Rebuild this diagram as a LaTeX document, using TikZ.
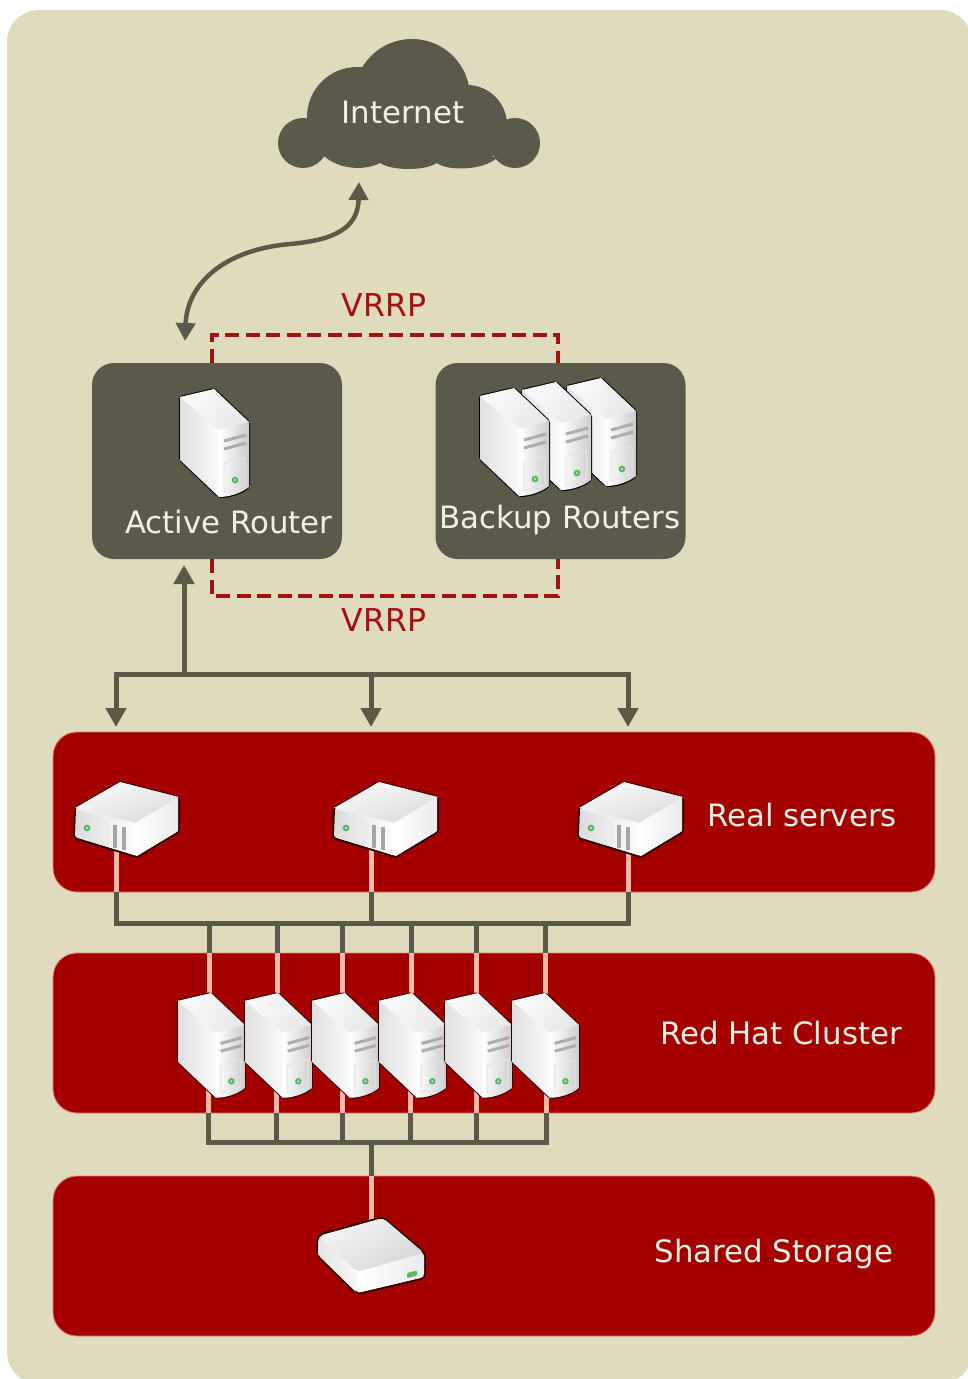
\documentclass[tikz,border=0pt]{standalone}
\usepackage{fontspec}
\setmainfont{DejaVu Sans}
\usetikzlibrary{arrows.meta}
\definecolor{sand}{HTML}{E1DBBE}
\definecolor{olive}{HTML}{5B5A4A}
\definecolor{panelred}{HTML}{A40000}
\definecolor{salmon}{HTML}{FBB9A8}
\definecolor{vrrp}{HTML}{A40F0F}
\definecolor{lbl}{HTML}{F2F0E4}
\definecolor{ledg}{HTML}{58B868}
\colorlet{edgecol}{black}
\tikzset{
  x=1pt,y=-1pt,
  panel/.style={fill=panelred,draw=salmon!70!panelred,line width=0.8pt,rounded corners=24pt,inner sep=0pt,minimum width=882pt,minimum height=160pt},
  darkpanel/.style={fill=olive,rounded corners=22pt,inner sep=0pt,minimum width=250pt,minimum height=196pt},
  lab/.style={inner sep=0pt,anchor=base,text=lbl,font=\fontsize{30.8}{36}\selectfont},
  vlab/.style={inner sep=0pt,anchor=base,text=vrrp,font=\fontsize{31.5}{36}\selectfont},
  wire/.style={draw=olive,line width=5pt,line join=miter},
  lit/.style={draw=salmon,line width=5pt},
  vlink/.style={draw=vrrp,line width=4.5pt,dash pattern=on 14pt off 6.5pt},
  biarrow/.style={draw=olive,line width=4.5pt,arrows={Triangle[width=19pt,length=18pt]-Triangle[width=19pt,length=18pt]}},
  endarrow/.style={draw=olive,line width=5pt,arrows={-Triangle[width=20pt,length=19pt]}},
  silhouette/.style={draw=edgecol,line width=2pt,line join=round,fill=white},
  tower/.pic={
    \path[silhouette,rounded corners=2pt] (0,8) -- (34,0) -- (69,33) -- (69,98) .. controls (60,105) and (48,108) .. (39,108) -- (0,71) -- cycle;
    \shade[left color=black!12,right color=black!2] (0,8) -- (39,41) -- (39,108) -- (0,71) -- cycle;
    \shade[left color=black!2,right color=black!9,shading angle=60] (0,8) -- (34,0) -- (69,33) -- (39,41) -- cycle;
    \shade[left color=white,right color=black!20] (39,41) -- (69,33) -- (69,98) .. controls (60,105) and (48,108) .. (39,108) -- cycle;
    \draw[black!32,line width=3pt] (44,52) -- (66,46) (44,60) -- (66,54);
    \draw[black!10,line width=1pt] (44,74) -- (65,69) -- (65,97) -- (44,103) -- cycle;
    \fill[ledg] (55,91) circle (3.4pt);
    \fill[white!70!ledg] (55,91) circle (1.2pt);
  },
  flatbox/.pic={
    \path[silhouette,rounded corners=3pt] (1,26) -- (46,0) -- (105,15) -- (105,50) -- (63,75) -- (0,56) -- cycle;
    \shade[left color=black!2,right color=black!14,shading angle=20] (1,26) -- (46,0) -- (105,15) -- (61,41) -- cycle;
    \shade[left color=black!14,right color=white] (2,27) -- (61,41) -- (63,74) -- (2,55) -- cycle;
    \shade[left color=white,right color=black!8] (61,41) -- (104,16) -- (104,49) -- (63,74) -- cycle;
    \draw[black!10,line width=0.8pt] (6,34) -- (33,41) -- (33,62) -- (6,55) -- cycle;
    \draw[black!35,line width=4.5pt] (41,43) -- (41,66) (50,45) -- (50,68);
    \fill[ledg] (13,46) circle (3.4pt);
    \fill[white!70!ledg] (13,46) circle (1.2pt);
  },
  diskbox/.pic={
    \path[silhouette,rounded corners=5pt] (1,18) -- (66,0) -- (108,36) -- (108,61) -- (40,77) -- (0,38) -- cycle;
    \shade[left color=black!4,right color=black!16,shading angle=30,rounded corners=4pt] (2,19) -- (66,1) -- (107,36) -- (40,55) -- cycle;
    \shade[left color=black!10,right color=black!3,rounded corners=3pt] (2,19) -- (40,55) -- (40,76) -- (1,38) -- cycle;
    \shade[left color=white,right color=black!8,rounded corners=3pt] (40,55) -- (107,36) -- (107,60) -- (40,76) -- cycle;
    \fill[ledg,rounded corners=1pt] (90,56) -- (100,53.5) -- (100,58.5) -- (90,61) -- cycle;
  }
}
\begin{document}
\begin{tikzpicture}
\useasboundingbox (0,0) rectangle (967,1379);
\fill[white] (0,0) rectangle (967,1379);
\fill[sand,rounded corners=32pt] (7,10) rectangle (972,1384);

% cloud
\coordinate (cloudbase) at (408,125);
\fill[olive] (303,143) circle (25pt) (515,143) circle (25pt)
  (412,97) circle (58pt) (357,117) circle (50pt) (467,125) circle (40pt);
\fill[olive] (318,150) .. controls (335,171) and (365,171) .. (380,163)
   .. controls (392,171) and (425,171) .. (437,163)
   .. controls (447,171) and (482,171) .. (497,158) -- (cloudbase) -- cycle;
\node[lab] (inet) at (403,123) {Internet};

% dark panels
\node[darkpanel] (active) at (217,461) {};
\node[darkpanel] (backup) at (560.5,461) {};

% red panels
\node[panel] (real) at (494,812) {};
\node[panel] (cluster) at (494,1033) {};
\node[panel] (storage) at (494,1256) {};

% VRRP links
\coordinate (vta) at (212,335);
\coordinate (vtb) at (558,335);
\coordinate (vba) at (212,596);
\coordinate (vbb) at (558,596);
\draw[vlink] (vta |- active.north) -- (vta) -- (vtb) -- (vtb |- backup.north);
\draw[vlink] (vba |- active.south) -- (vba) -- (vbb) -- (vbb |- backup.south);
\node[vlab] (v1) at (384,316) {VRRP};
\node[vlab] (v2) at (384,631) {VRRP};

% internet link
\coordinate (cloudtip) at (359,182);
\coordinate (routertip) at (185,341);
\coordinate (curvemid) at (290,244);
\draw[biarrow] (routertip) .. controls (187,285) and (222,250) .. (curvemid) .. controls (335,240) and (358,228) .. (cloudtip);

% distribution arrows
\coordinate (busA) at (116,674);
\coordinate (busB) at (628,674);
\coordinate (busUp) at (184,674);
\coordinate (busM) at (371,674);
\coordinate (tipUp) at (184,565);
\coordinate (tipA) at (116,727);
\coordinate (tipM) at (371,727);
\coordinate (tipB) at (628,727);
\draw[wire] ([xshift=-2.5pt]busA) -- ([xshift=2.5pt]busB);
\draw[endarrow] (busUp) -- (tipUp);
\draw[endarrow] (busA) -- (tipA);
\draw[endarrow] (busM) -- (tipM);
\draw[endarrow] (busB) -- (tipB);

% buses
\coordinate (netL) at (116,923);
\coordinate (netR) at (628,923);
\coordinate (sanL) at (208,1142);
\coordinate (sanM) at (371,1142);
\coordinate (sanR) at (546,1142);

% real server links
\foreach \n/\xx in {a/116,b/371,c/628}{
  \coordinate (srv\n) at (\xx,850);
  \draw[lit] (srv\n) -- (srv\n |- real.south);
  \draw[wire] (srv\n |- real.south) -- (srv\n |- netL);
}
\draw[wire] ([xshift=-2.5pt]netL) -- ([xshift=2.5pt]netR);

% cluster links, upper
\foreach \n/\xx in {1/209,2/277,3/342,4/411,5/476,6/545}{
  \coordinate (up\n) at (\xx,1000);
  \draw[lit] (up\n) -- (up\n |- cluster.north);
  \draw[wire] (up\n |- cluster.north) -- (up\n |- netL);
}
% cluster links, lower
\foreach \n/\xx in {1/208,2/276,3/342,4/410,5/476,6/546}{
  \coordinate (dn\n) at (\xx,1090);
  \draw[lit] (dn\n) -- (dn\n |- cluster.south);
  \draw[wire] (dn\n |- cluster.south) -- (dn\n |- sanL);
}
\draw[wire] ([xshift=-2.5pt]sanL) -- ([xshift=2.5pt]sanR);

% storage link
\coordinate (disktop) at (371,1222);
\draw[lit] (disktop) -- (disktop |- storage.north);
\draw[wire] (disktop |- storage.north) -- (sanM);

% machines
\pic at (180,389) {tower};
\pic at (567,378) {tower};
\pic at (522,382) {tower};
\pic at (480,388) {tower};
\colorlet{edgecol}{black!72!panelred}
\pic at (74,782) {flatbox};
\pic at (333,782) {flatbox};
\pic at (578,782) {flatbox};
\foreach \xo in {178,245,312,379,445,512}{
  \pic[scale=0.97] at (\xo,993) {tower};
}
\pic at (317,1217) {diskbox};

% labels
\node[lab] (lactive) at (229,533) {Active Router};
\node[lab] (lbackup) at (560,528) {Backup Routers};
\node[lab] (lreal) at (802,826) {Real servers};
\node[lab] (lcluster) at (781,1044) {Red Hat Cluster};
\node[lab] (lstorage) at (774,1262) {Shared Storage};
\end{tikzpicture}
\end{document}
